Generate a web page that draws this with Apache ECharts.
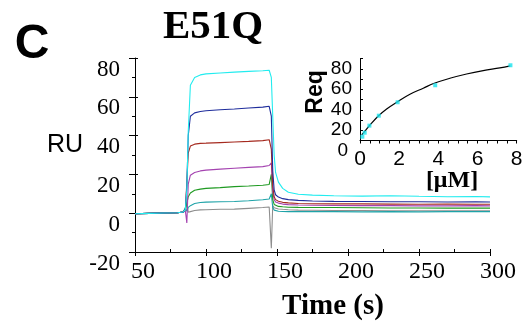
<!DOCTYPE html>
<html>
<head>
<meta charset="utf-8">
<script src="https://cdn.jsdelivr.net/npm/echarts@6/dist/echarts.min.js"></script>
<style>
  html, body { margin: 0; padding: 0; background: #fff; }
  #chart { width: 528px; height: 325px; }
</style>
</head>
<body>
<div id="chart"></div>
<script>
// Sensorgram time points (s)
const TIME = [50, 60, 70, 80, 84, 85.5, 86.5, 87.5, 89, 92, 96, 100, 110, 120, 130, 140, 144.5,
  146, 147, 148, 149, 151, 154, 158, 165, 175, 190, 210, 230, 250, 270, 290, 300];

// Response (RU) for each analyte concentration, highest to lowest
const RU_CYAN = [-0.3, -0.1, 0.1, 0.2, 0.6, 2, 12, 42, 66, 70, 71.3, 71.8, 72.3, 72.7, 73.1, 73.4, 73.7,
  70, 50, 30, 21, 16, 12.8, 10.8, 9.8, 9.3, 9.0, 8.8, 9.0, 8.7, 8.5, 8.6, 8.4];
const RU_BLUE = [-0.3, -0.1, 0.1, 0.2, 0.6, 2, 14, 40, 50, 51.7, 52.4, 52.8, 53.3, 53.7, 54.2, 54.7, 55.1,
  50, 22, 12, 9.5, 8.3, 7.5, 7.0, 6.6, 6.3, 6.1, 6.0, 5.9, 5.9, 5.8, 5.9, 5.8];
const RU_RED = [-0.3, -0.1, 0.1, 0.2, 0.6, 2, 16, 31, 34.6, 35.6, 36.0, 36.1, 36.4, 36.7, 37.0, 37.4, 37.9,
  33, 14, 8.5, 7, 6.2, 5.6, 5.3, 5.0, 4.9, 4.8, 4.8, 4.7, 4.6, 4.7, 4.6, 4.6];
const RU_PURPLE = [-0.3, -0.1, 0.1, 0.2, 0.6, 1, -5, 15, 19.6, 21, 21.8, 22.2, 22.7, 23.2, 23.6, 24.0, 24.6,
  26, 11, 7, 5.8, 5.2, 4.7, 4.4, 4.2, 4.1, 4.0, 3.9, 3.9, 3.8, 3.8, 3.9, 3.8];
const RU_GREEN = [-0.3, -0.1, 0.1, 0.2, 0.6, 2, 5, 8.5, 10.4, 11.8, 12.4, 12.8, 13.2, 13.7, 14.0, 14.4, 14.8,
  20, 7, 4.5, 3.8, 3.5, 3.3, 3.1, 3.0, 2.9, 2.9, 2.8, 2.7, 2.7, 2.6, 2.6, 2.6];
const RU_TEAL = [-0.3, -0.1, 0.1, 0.2, 0.6, 3, 1, 3, 3.9, 5, 5.5, 5.7, 5.9, 6.0, 6.4, 6.9, 7.3,
  10, 3, 1.6, 1.2, 1.0, 0.9, 0.8, 0.8, 0.8, 0.8, 0.7, 0.8, 0.7, 0.8, 0.8, 0.8];
const RU_GRAY = [-0.3, -0.1, 0.1, 0.2, 0.6, 2, 6, 0.5, 0.8, 1.4, 1.7, 1.8, 2.0, 2.1, 2.5, 2.9, 3.2,
  -18, 4, 2.8, 2.5, 2.2, 2.0, 1.8, 1.6, 1.5, 1.4, 1.4, 1.3, 1.3, 1.3, 1.3, 1.3];

// Equilibrium response vs concentration (inset)
const CONC_UM = [0.12, 0.24, 0.48, 0.96, 1.92, 3.84, 7.68];
const REQ = [13.7, 17.6, 24.5, 34.2, 47.3, 63.9, 83.4];
// Fitted binding curve
const FIT_X = [0.085, 0.255, 0.51, 0.935, 1.36, 1.92, 2.55, 3.23, 3.79, 4.59, 5.44, 6.29, 7.14, 7.67];
const FIT_Y = [15.4, 19.3, 25.1, 33.9, 40.8, 47.9, 55.1, 61.0, 65.8, 70.7, 74.9, 78.2, 80.8, 82.8];

const SERIF = '"Liberation Serif", "Times New Roman", serif';
const SANS = '"Liberation Sans", Arial, sans-serif';

const curves = [
  { data: RU_GRAY, color: '#8e8e8e' },
  { data: RU_TEAL, color: '#1fa3a8' },
  { data: RU_GREEN, color: '#1f9a22' },
  { data: RU_PURPLE, color: '#a443b0' },
  { data: RU_RED, color: '#a52a1f' },
  { data: RU_BLUE, color: '#1f2d9c' },
  { data: RU_CYAN, color: '#22ecef' }
];

const pair = (xs, ys) => xs.map((x, i) => [x, ys[i]]);

const chart = echarts.init(document.getElementById('chart'), null, { renderer: 'canvas' });

const option = {
  animation: false,
  backgroundColor: '#fff',
  grid: [
    { left: 135, top: 58, width: 355, height: 194 },
    { left: 360, top: 58.5, width: 156.7, height: 82 },
    { left: 360, top: 58.5, width: 156.7, height: 92.2 }
  ],
  xAxis: [
    {
      gridIndex: 0, type: 'value', min: 50, max: 300, interval: 50,
      axisLine: { show: true, onZero: false, lineStyle: { color: '#000', width: 1 } },
      axisTick: { show: true, inside: false, length: 4, lineStyle: { color: '#000' } },
      minorTick: { show: false },
      splitLine: { show: false },
      axisLabel: { color: '#000', fontFamily: SERIF, fontSize: 24, margin: 8, padding: [0, 0, 0, 16] }
    },
    {
      gridIndex: 0, type: 'value', min: 50, max: 300, interval: 50, position: 'bottom',
      axisLine: { show: false, onZero: false },
      axisTick: { show: true, inside: true, length: 3, lineStyle: { color: '#000' } },
      minorTick: { show: true, splitNumber: 2, length: 3, lineStyle: { color: '#000' } },
      splitLine: { show: false },
      axisLabel: { show: false }
    },
    {
      gridIndex: 1, type: 'value', min: 0, max: 8, interval: 2,
      axisLine: { show: true, onZero: false, lineStyle: { color: '#000', width: 1 } },
      axisTick: { show: true, inside: false, length: 3, lineStyle: { color: '#000' } },
      minorTick: { show: true, splitNumber: 4, length: 3, lineStyle: { color: '#000' } },
      splitLine: { show: false },
      axisLabel: { color: '#000', fontFamily: SANS, fontSize: 21, margin: 8 }
    },
    {
      gridIndex: 2, type: 'value', min: 0, max: 8, show: false
    }
  ],
  yAxis: [
    {
      gridIndex: 0, type: 'value', min: -20, max: 80, interval: 20,
      axisLine: { show: true, onZero: false, lineStyle: { color: '#000', width: 1 } },
      axisTick: { show: true, inside: false, length: 6, lineStyle: { color: '#000' } },
      minorTick: { show: true, splitNumber: 2, length: 3, lineStyle: { color: '#000' } },
      splitLine: { show: false },
      axisLabel: { color: '#000', fontFamily: SERIF, fontSize: 23, margin: 15, verticalAlign: 'top' }
    },
    {
      gridIndex: 0, type: 'value', min: -20, max: 80, interval: 20, position: 'left',
      axisLine: { show: false, onZero: false },
      axisTick: { show: true, inside: true, length: 3, lineStyle: { color: '#000' } },
      splitLine: { show: false },
      axisLabel: { show: false }
    },
    {
      gridIndex: 1, type: 'value', min: 10, max: 90, interval: 10,
      axisLine: { show: true, onZero: false, lineStyle: { color: '#000', width: 1 } },
      axisTick: { show: true, inside: true, length: 3, lineStyle: { color: '#000' } },
      splitLine: { show: false },
      axisLabel: {
        color: '#000', fontFamily: SANS, fontSize: 19, margin: 8,
        formatter: v => (v % 20 === 0 ? String(v) : '')
      }
    },
    {
      gridIndex: 2, type: 'value', min: 0, max: 90, interval: 10,
      axisLine: { show: false }, axisTick: { show: false }, splitLine: { show: false },
      axisLabel: {
        color: '#000', fontFamily: SANS, fontSize: 19, margin: 12,
        formatter: v => (v === 0 ? '0' : '')
      }
    }
  ],
  series: [
    ...curves.map(c => ({
      type: 'line', xAxisIndex: 0, yAxisIndex: 0,
      data: pair(TIME, c.data),
      showSymbol: false, symbol: 'none',
      lineStyle: { color: c.color, width: 1.1 },
      z: 2
    })),
    {
      type: 'line', xAxisIndex: 2, yAxisIndex: 2,
      data: pair(FIT_X, FIT_Y), smooth: 0.4,
      showSymbol: false, symbol: 'none',
      lineStyle: { color: '#000', width: 1.2 }, z: 3
    },
    {
      type: 'scatter', xAxisIndex: 2, yAxisIndex: 2,
      data: pair(CONC_UM, REQ),
      symbol: 'rect', symbolSize: 4,
      itemStyle: { color: '#19e3ee' }, z: 4
    }
  ],
  graphic: [
    { type: 'text', style: { text: 'C', x: 32, y: 45, font: 'bold 48px ' + SANS, align: 'center', verticalAlign: 'middle', fill: '#000' } },
    { type: 'text', style: { text: 'E51Q', x: 213, y: 27, font: 'bold 41px ' + SERIF, align: 'center', verticalAlign: 'middle', fill: '#000' } },
    { type: 'text', style: { text: 'RU', x: 65, y: 145, font: '25px ' + SANS, align: 'center', verticalAlign: 'middle', fill: '#000' } },
    { type: 'text', style: { text: 'Time (s)', x: 333, y: 307, font: 'bold 29px ' + SERIF, align: 'center', verticalAlign: 'middle', fill: '#000' } },
    { type: 'text', style: { text: '[μM]', x: 452, y: 181, font: 'bold 24px ' + SERIF, align: 'center', verticalAlign: 'middle', fill: '#000' } },
    { type: 'text', x: 316, y: 92, rotation: Math.PI / 2, style: { text: 'Req', x: 0, y: 0, font: 'bold 23px ' + SANS, align: 'center', verticalAlign: 'middle', fill: '#000' } }
  ]
};

chart.setOption(option);
</script>
</body>
</html>
